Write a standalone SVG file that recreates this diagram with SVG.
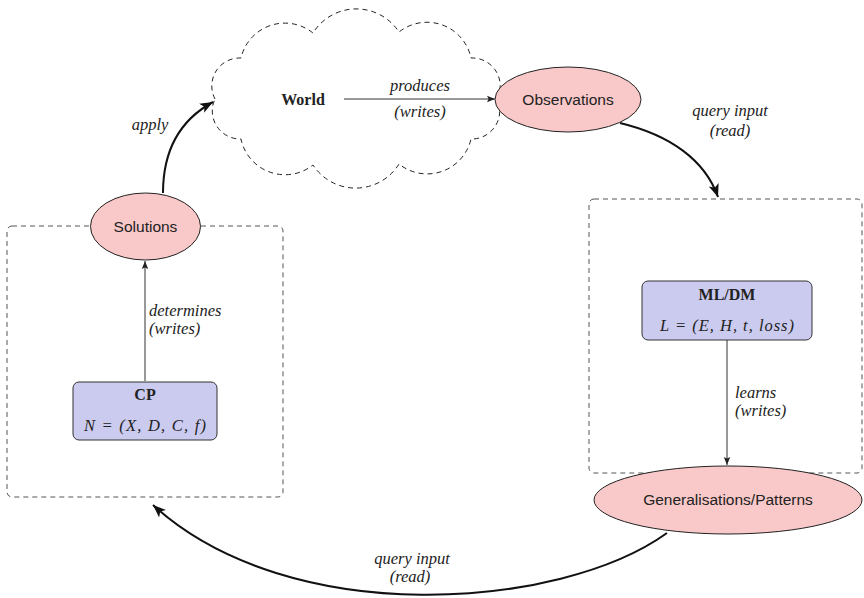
<svg xmlns="http://www.w3.org/2000/svg" width="864" height="598" viewBox="0 0 864 598">
  <style>
    .ser { font-family: "Liberation Serif", "DejaVu Serif", serif; fill: #222; }
    .it { font-style: italic; font-size: 16.5px; }
    .bold { font-weight: bold; font-size: 16px; }
    .sans { font-family: "Liberation Sans", "DejaVu Sans", sans-serif; font-size: 15.5px; fill: #222; }
    .pink { fill: #f9c8c8; stroke: #222; stroke-width: 1; }
    .lav { fill: #cbcbef; stroke: #333; stroke-width: 1; }
    .group { fill: none; stroke: #555; stroke-width: 1; stroke-dasharray: 5 4; }
    .cloud { fill: none; stroke: #222; stroke-width: 1; stroke-dasharray: 5 4; }
    .thin { fill: none; stroke: #333; stroke-width: 1; }
    .thick { fill: none; stroke: #111; stroke-width: 2; }
  </style>
  <defs>
    <marker id="tipSmall" viewBox="0 0 10 10" refX="10" refY="5" markerWidth="8" markerHeight="8" markerUnits="userSpaceOnUse" orient="auto">
      <path d="M0 1 L10 5 L0 9 L2 5 Z" fill="#222"/>
    </marker>
    <marker id="tipBig" viewBox="0 0 10 10" refX="10" refY="5" markerWidth="13" markerHeight="13" markerUnits="userSpaceOnUse" orient="auto">
      <path d="M0 1 L10 5 L0 9 L2.5 5 Z" fill="#111"/>
    </marker>
  </defs>

  <!-- dashed grouping boxes -->
  <rect class="group" x="7" y="226" width="276" height="271" rx="5"/>
  <rect class="group" x="589" y="199" width="273" height="274" rx="5"/>

  <!-- World cloud: ten puffs joined at the dips -->
  <g id="world">
    <path class="cloud"
      d="M215 99 A28 28 0 0 1 241 58 A45 45 0 0 1 313 33 A51 51 0 0 1 399 32 A45 45 0 0 1 471 58 A28 28 0 0 1 497 99 A28 28 0 0 1 471 139 A45 45 0 0 1 399 164 A51 51 0 0 1 313 165 A45 45 0 0 1 241 139 A28 28 0 0 1 215 99 Z"/>
    <text class="ser bold" x="303" y="105" text-anchor="middle">World</text>
  </g>

  <!-- connectors -->
  <g id="connectors">
    <line class="thin" x1="344" y1="99" x2="495" y2="99" marker-end="url(#tipSmall)"/>
    <line class="thin" x1="145" y1="381" x2="145" y2="261" marker-end="url(#tipSmall)"/>
    <line class="thin" x1="727" y1="340" x2="727" y2="465" marker-end="url(#tipSmall)"/>
    <path class="thick" d="M163 193 C163 150 180 120 213 102" marker-end="url(#tipBig)"/>
    <path class="thick" d="M620 123 C670 135 705 160 718 197" marker-end="url(#tipBig)"/>
    <path class="thick" d="M667 533 C560 610 290 630 153 505" marker-end="url(#tipBig)"/>
  </g>

  <!-- connector labels -->
  <g id="labels" class="ser it">
    <text x="420" y="91" text-anchor="middle">produces</text>
    <text x="420" y="117" text-anchor="middle">(writes)</text>
    <text x="150" y="130" text-anchor="middle">apply</text>
    <text x="730" y="116" text-anchor="middle">query input</text>
    <text x="730" y="136" text-anchor="middle">(read)</text>
    <text x="149" y="316">determines</text>
    <text x="149" y="334">(writes)</text>
    <text x="735" y="398">learns</text>
    <text x="735" y="416">(writes)</text>
    <text x="412" y="564" text-anchor="middle">query input</text>
    <text x="410" y="582" text-anchor="middle">(read)</text>
  </g>

  <g id="observations">
    <ellipse class="pink" cx="568" cy="99.5" rx="73" ry="32.5"/>
    <text class="sans" x="568" y="105" text-anchor="middle">Observations</text>
  </g>

  <g id="solutions">
    <ellipse class="pink" cx="145.5" cy="226.5" rx="55" ry="33.5"/>
    <text class="sans" x="145.5" y="232" text-anchor="middle">Solutions</text>
  </g>

  <g id="cp">
    <rect class="lav" x="73" y="382" width="144" height="58" rx="6"/>
    <text class="ser bold" x="145" y="400" text-anchor="middle">CP</text>
    <text class="ser it" x="145" y="431" text-anchor="middle" textLength="122" lengthAdjust="spacing">N = (X, D, C, f)</text>
  </g>

  <g id="mldm">
    <rect class="lav" x="642" y="281" width="170" height="59" rx="6"/>
    <text class="ser bold" x="727" y="300" text-anchor="middle">ML/DM</text>
    <text class="ser it" x="727" y="331" text-anchor="middle" textLength="134" lengthAdjust="spacing">L = (E, H, t, loss)</text>
  </g>

  <g id="generalisations">
    <ellipse class="pink" cx="728" cy="500" rx="134" ry="34"/>
    <text class="sans" x="728" y="505" text-anchor="middle">Generalisations/Patterns</text>
  </g>
</svg>
